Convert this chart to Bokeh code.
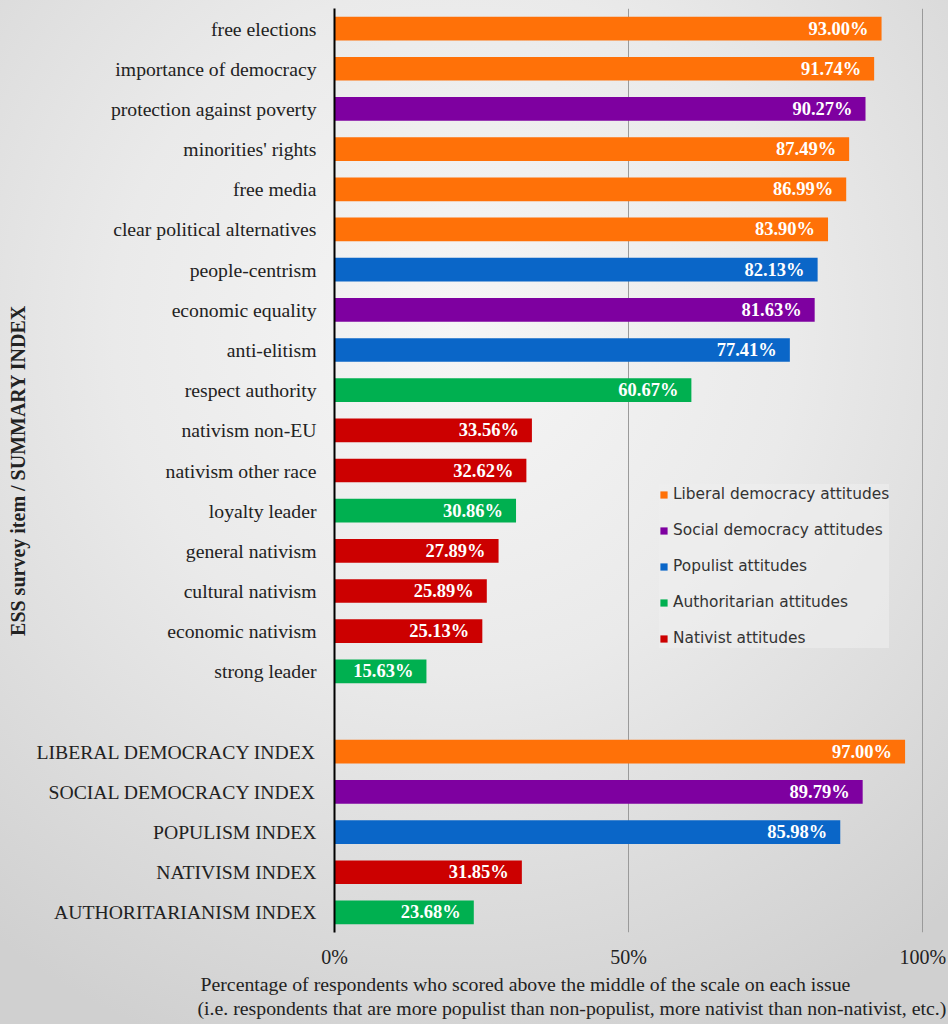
from bokeh.plotting import figure
from bokeh.models import (ColumnDataSource, FactorRange, Range1d, FixedTicker,
                          CustomJSTickFormatter, Legend, LegendItem, Title)
from bokeh.core.properties import value
from bokeh.embed import file_html
from bokeh.resources import INLINE

# ---- data (top to bottom) ----
items = ["free elections", "importance of democracy", "protection against poverty",
         "minorities' rights", "free media", "clear political alternatives",
         "people-centrism", "economic equality", "anti-elitism", "respect authority",
         "nativism non-EU", "nativism other race", "loyalty leader", "general nativism",
         "cultural nativism", "economic nativism", "strong leader"]
item_values = [93.00, 91.74, 90.27, 87.49, 86.99, 83.90, 82.13, 81.63, 77.41, 60.67,
               33.56, 32.62, 30.86, 27.89, 25.89, 25.13, 15.63]
item_groups = ["lib", "lib", "soc", "lib", "lib", "lib", "pop", "soc", "pop", "aut",
               "nat", "nat", "aut", "nat", "nat", "nat", "aut"]

indices = ["LIBERAL DEMOCRACY INDEX", "SOCIAL DEMOCRACY INDEX", "POPULISM INDEX",
           "NATIVISM INDEX", "AUTHORITARIANISM INDEX"]
index_values = [97.00, 89.79, 85.98, 31.85, 23.68]
index_groups = ["lib", "soc", "pop", "nat", "aut"]

group_keys = ["lib", "soc", "pop", "aut", "nat"]
group_names = ["Liberal democracy attitudes", "Social democracy attitudes",
               "Populist attitudes", "Authoritarian attitudes", "Nativist attitudes"]
group_colors = ["#FF7108", "#7E00A0", "#0A66C8", "#00B050", "#CC0000"]

x_ticks = [0, 50, 100]

# ---- figure ----
labels = items + indices
vals = item_values + index_values
groups = item_groups + index_groups
factors = list(reversed(items + [" "] + indices))

SERIF = "Liberation Serif"

p = figure(width=948, height=1024, output_backend="svg", toolbar_location=None,
           y_range=FactorRange(factors=factors, range_padding=0),
           x_range=Range1d(0, 102),
           min_border_left=334, min_border_top=8, min_border_right=14,
           min_border_bottom=92)
p.background_fill_color = None
p.border_fill_color = None
p.outline_line_color = None
p.styles = {"background": "radial-gradient(ellipse 80% 75% at 48% 32%, #f6f6f6 0%, #eaeaea 45%, #d0d0d0 100%)"}

renderers = {}
for key, color in zip(group_keys, group_colors):
    sel = [i for i, g in enumerate(groups) if g == key]
    src = ColumnDataSource(dict(
        y=[labels[i] for i in sel],
        x=[vals[i] for i in sel],
        txt=["%.2f%%" % vals[i] for i in sel],
    ))
    r = p.hbar(y="y", right="x", left=0, height=0.59, source=src,
               fill_color=color, line_color=None)
    p.text(x="x", y="y", text="txt", source=src, x_offset=-13,
           text_align="right", text_baseline="middle", text_color="white",
           text_font=value(SERIF), text_font_style="bold", text_font_size="18.5px")
    renderers[key] = r

# grid
p.ygrid.grid_line_color = None
p.xgrid.ticker = FixedTicker(ticks=x_ticks)
p.xgrid.grid_line_color = "#9a9a9a"
p.xgrid.grid_line_width = 1

# x axis
p.xaxis.ticker = FixedTicker(ticks=x_ticks)
p.xaxis.formatter = CustomJSTickFormatter(code="return tick + '%';")
p.xaxis.axis_line_color = None
p.xaxis.major_tick_line_color = None
p.xaxis.minor_tick_line_color = None
p.xaxis.major_tick_out = 0
p.xaxis.major_label_standoff = 13
p.xaxis.major_label_text_font = SERIF
p.xaxis.major_label_text_font_size = "20px"
p.xaxis.major_label_text_color = "#222222"

# y axis
p.yaxis.axis_line_color = "black"
p.yaxis.axis_line_width = 2
p.yaxis.major_tick_line_color = None
p.yaxis.minor_tick_line_color = None
p.yaxis.major_tick_out = 0
p.yaxis.major_label_standoff = 18
p.yaxis.major_label_text_font = SERIF
p.yaxis.major_label_text_font_size = "19.7px"
p.yaxis.major_label_text_color = "#222222"
p.yaxis.axis_label = "ESS survey item / SUMMARY INDEX"
p.yaxis.axis_label_text_font = SERIF
p.yaxis.axis_label_text_font_style = "bold"
p.yaxis.axis_label_text_font_size = "20px"
p.yaxis.axis_label_text_color = "#222222"
p.yaxis.axis_label_standoff = 5

# x axis title (two left-aligned lines)
t1 = Title(text="Percentage of respondents who scored above the middle of the scale on each issue",
           align="left", offset=-134, text_font=SERIF, text_font_style="normal",
           text_font_size="19.8px", text_color="#222222", standoff=0)
t2 = Title(text="(i.e. respondents that are more populist than non-populist, more nativist than non-nativist, etc.)",
           align="left", offset=-137, text_font=SERIF, text_font_style="normal",
           text_font_size="19.8px", text_color="#222222", standoff=0)
p.add_layout(t1, "below")
p.add_layout(t2, "below")

# legend
legend = Legend(items=[LegendItem(label=n, renderers=[renderers[k]])
                       for k, n in zip(group_keys, group_names)],
                location=(325, 284), orientation="vertical",
                glyph_width=9, glyph_height=9, label_standoff=5,
                label_height=20, spacing=16, padding=11, margin=0,
                label_text_font="DejaVu Sans", label_text_font_size="15.4px",
                label_text_color="#333333",
                background_fill_color="#eeeeee", background_fill_alpha=0.6,
                border_line_color=None)
p.add_layout(legend, "center")

open("out.html", "w").write(file_html(p, INLINE))
